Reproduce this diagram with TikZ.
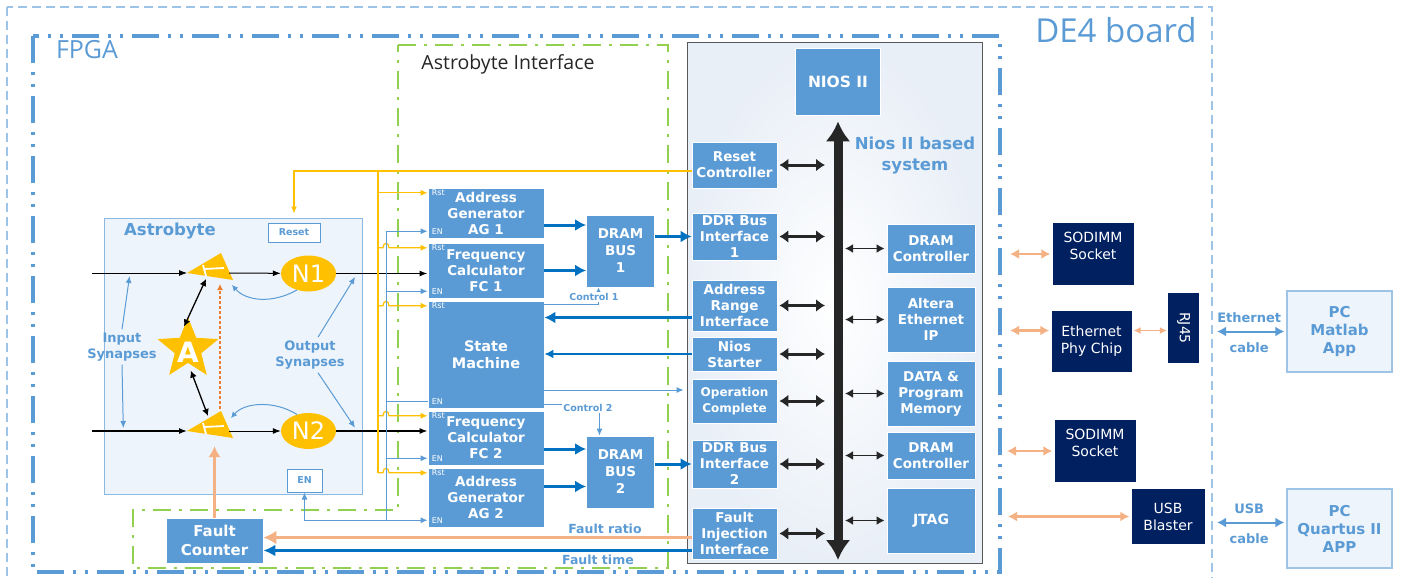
\documentclass[tikz,border=0pt]{standalone}
\usepackage{fontspec}
\setmainfont{DejaVu Sans}
\newfontfamily\segoe{Open Sans}
\usepackage{xcolor}
\definecolor{boxblue}{RGB}{91,155,213}
\definecolor{deepblue}{RGB}{0,112,192}
\definecolor{navy}{RGB}{0,32,96}
\definecolor{astroyellow}{RGB}{255,192,0}
\definecolor{peach}{RGB}{244,177,131}
\definecolor{dashorange}{RGB}{237,125,49}
\definecolor{limegreen}{RGB}{146,208,80}
\definecolor{paleblue}{RGB}{157,195,230}
\definecolor{niosbg}{RGB}{233,239,247}
\definecolor{astrobg}{RGB}{238,244,251}
\definecolor{framegray}{RGB}{89,89,89}
\usepackage{tikz}
\usetikzlibrary{arrows.meta, positioning, shapes.geometric, calc}

\newcommand{\boxfont}{\fontsize{13.5}{16}\selectfont\bfseries}

\tikzset{
  ibox/.style={fill=boxblue, draw=white, line width=0.8pt, text=white, align=center, font=\boxfont, inner sep=1pt},
  navybox/.style={fill=navy, text=white, align=center, font=\fontsize{14}{17}\selectfont, inner sep=1pt},
  pcbox/.style={draw=paleblue, line width=1.2pt, fill=astrobg, text=boxblue, align=center, font=\fontsize{15}{18}\selectfont\bfseries},
  tag/.style={text=white, font=\fontsize{8}{9}\selectfont, inner xsep=4pt, inner ysep=2pt},
  lbl/.style={text=boxblue, align=center, font=\fontsize{13}{16}\selectfont\bfseries},
  yel/.style={draw=astroyellow, line width=1.2pt},
  thinblue/.style={draw=boxblue, line width=1pt},
  tipS/.style={-{Latex[length=7pt,width=6pt]}},
  blk/.style={draw=black, line width=1pt, -{Latex[length=8pt,width=6pt]}},
  blkdbl/.style={draw=black, line width=1.3pt, {Latex[length=7pt,width=7pt]}-{Latex[length=7pt,width=7pt]}},
  fat/.style={draw=deepblue, line width=3pt, -{Latex[length=11pt,width=12pt]}},
  busdbl/.style={draw=black!85, line width=3pt, {Latex[length=9pt,width=13pt]}-{Latex[length=9pt,width=13pt]}},
  busdblthin/.style={draw=black!85, line width=1.6pt, {Latex[length=8pt,width=9pt]}-{Latex[length=8pt,width=9pt]}},
  peachdbl/.style={draw=peach, line width=2.5pt, {Latex[length=9pt,width=10pt]}-{Latex[length=9pt,width=10pt]}},
  cabledbl/.style={draw=boxblue, line width=2pt, {Latex[length=9pt,width=10pt]}-{Latex[length=9pt,width=10pt]}},
  hop/.style={insert path={-- ++(5,0) .. controls +(0,-6) and +(0,-6) .. ++(6,0)}},
}

% synapse: yellow wedge with a white T, plus named contact points
\newcommand{\synapse}[2]{%
  \begin{scope}[shift={#2}]
    \fill[astroyellow] (0,0) -- (34,-20) -- (46,7) -- cycle;
    \draw[white, line width=1.8pt] (16,-8) -- (19,3);
    \draw[white, line width=1.8pt] (17,-4) -- (37,-5);
    \coordinate (#1w) at (0,0);
    \coordinate (#1e) at (42,0);
    \coordinate (#1v) at (45,12);
    \coordinate (#1r) at (44,-13);
    \coordinate (#1t) at (33,-22);
    \coordinate (#1b) at (33,11);
    \coordinate (#1s) at (19,6);
    \coordinate (#1u) at (21,-15);
    \coordinate (#1d) at (28,15);
  \end{scope}}

\begin{document}
\begin{tikzpicture}[x=1pt, y=-1pt]
  \useasboundingbox (0,0) rectangle (1405,578);

  % --- Board and FPGA frames ---
  \draw[paleblue, line width=1.2pt, dash pattern=on 9pt off 5pt] (7,7) rectangle (1212,590);
  \node[font=\segoe\fontsize{33}{36}\selectfont, text=boxblue, inner sep=0pt] (de4) at (1116,30) {DE4 board};
  \draw[boxblue, line width=4pt, dash pattern=on 27pt off 9pt on 3pt off 9pt on 3pt off 9pt] (33,36) rectangle (1000,572);
  \node[font=\segoe\fontsize{25}{28}\selectfont, text=boxblue, inner sep=0pt] (fpga) at (87,50) {FPGA};
  \coordinate (fpgaE) at (1000,36);
  \coordinate (de4E) at (1212,7);

  % --- Astrobyte Interface frame ---
  \draw[limegreen, line width=2.5pt, dash pattern=on 18pt off 8pt on 3pt off 8pt]
    (398,45) -- (668,45) -- (668,568) -- (133,568) -- (133,510) -- (398,510) -- cycle;
  \node[font=\segoe\fontsize{19.5}{22}\selectfont, text=black!85, inner sep=0pt] (aititle) at (508,64) {Astrobyte Interface};

  % --- Nios II based system frame ---
  \draw[framegray, line width=1pt, inner color=white, outer color=niosbg] (687,43) rectangle (982,563);
  \node[lbl, font=\fontsize{16.5}{21}\selectfont\bfseries] (niostitle) at (915,156) {Nios II based\\system};

  % --- Astrobyte block ---
  \draw[boxblue!70, line width=1pt, fill=astrobg] (104,218) rectangle (362,494);
  \node[font=\fontsize{16.5}{18}\selectfont\bfseries, text=boxblue] (astro) at (170,231) {Astrobyte};
  \node[draw=boxblue, line width=1pt, fill=white, text=boxblue, font=\fontsize{9.5}{11}\selectfont\bfseries,
        minimum width=52pt, minimum height=19pt, inner sep=0pt] (rstbox) at (294,232.5) {Reset};
  \node[draw=boxblue, line width=1pt, fill=white, text=boxblue, font=\fontsize{9.5}{11}\selectfont\bfseries,
        minimum width=35pt, minimum height=23pt, inner sep=0pt] (enbox) at (304.5,480.5) {EN};
  \node[ellipse, fill=astroyellow, minimum width=55pt, minimum height=36pt, inner sep=0pt,
        text=white, font=\fontsize{24}{26}\selectfont] (n1) at (308.5,273.5) {N1};
  \node[ellipse, fill=astroyellow, minimum width=55pt, minimum height=36pt, inner sep=0pt,
        text=white, font=\fontsize{24}{26}\selectfont] (n2) at (308.5,431) {N2};
  \node[star, star points=5, star point ratio=2.3, minimum size=64pt, inner sep=0pt, fill=astroyellow] (star) at (188,349) {};
  \node[text=white, font=\fontsize{28}{30}\selectfont\bfseries] (startxt) at (188,352) {A};
  \synapse{syn1}{(187,273)}
  \synapse{syn2}{(187,431)}

  % inputs and outputs
  \coordinate (in1) at (92,273);
  \coordinate (in2) at (92,431);
  \draw[blk, line width=0.8pt] (in1) -- coordinate[pos=0.4] (insyn1) (syn1w);
  \draw[blk, line width=1.3pt] (in2) -- coordinate[pos=0.33] (insyn2) (syn2w);
  \draw[blk] (syn1e) -- (n1);
  \draw[blk] (syn2e) -- (n2);
  \draw[blkdbl] (star.100) -- (syn1s);
  \draw[blkdbl, shorten <=8pt] (star.south) -- (syn2u);
  \draw[dashorange, line width=1.2pt, dash pattern=on 3pt off 2pt, -{Latex[length=6pt,width=6pt]}] (syn2t) -- (syn1b);
  \draw[thinblue, -{Latex[length=6pt,width=6pt]}] (n1.235) .. controls +(-25,14) and +(14,16) .. (syn1v);
  \draw[thinblue, -{Latex[length=6pt,width=6pt]}] (n2.125) .. controls +(-22,-14) and +(14,-16) .. (syn2r);
  \node[lbl] (insyn) at (122,347) {Input\\Synapses};
  \draw[thinblue, tipS, shorten >=3pt] (insyn.north) -- (insyn1);
  \draw[thinblue, tipS, shorten >=3pt] (insyn.south) -- (insyn2);

  % --- Astrobyte Interface blocks ---
  \node[ibox, minimum width=116pt, minimum height=50pt] (ag1) at (486,213) {Address\\Generator\\AG 1};
  \node[ibox, minimum width=116pt, minimum height=55pt] (fc1) at (486,270.5) {Frequency\\Calculator\\FC 1};
  \node[ibox, minimum width=116pt, minimum height=107pt, font=\fontsize{14.5}{17}\selectfont\bfseries] (sm) at (486,354.5) {State\\Machine};
  \node[ibox, minimum width=116pt, minimum height=54pt] (fc2) at (486,438) {Frequency\\Calculator\\FC 2};
  \node[ibox, minimum width=116pt, minimum height=59pt] (ag2) at (486,497.5) {Address\\Generator\\AG 2};
  \node[tag, anchor=north west] (ag1-rst) at (ag1.north west) {Rst};
  \node[tag, anchor=south west] (ag1-en) at ([yshift=2pt]ag1.south west) {EN};
  \node[tag, anchor=north west] (fc1-rst) at (fc1.north west) {Rst};
  \node[tag, anchor=south west] (fc1-en) at ([yshift=2pt]fc1.south west) {EN};
  \node[tag, anchor=north west] (sm-rst) at (sm.north west) {Rst};
  \node[tag, anchor=south west] (sm-en) at ([yshift=2pt]sm.south west) {EN};
  \node[tag, anchor=north west] (fc2-rst) at (fc2.north west) {Rst};
  \node[tag, anchor=south west] (fc2-en) at ([yshift=2pt]fc2.south west) {EN};
  \node[tag, anchor=north west] (ag2-rst) at (ag2.north west) {Rst};
  \node[tag, anchor=south west] (ag2-en) at ([yshift=2pt]ag2.south west) {EN};
  \node[ibox, minimum width=68pt, minimum height=72pt, font=\fontsize{13.5}{17}\selectfont\bfseries] (dbus1) at (620.5,251) {DRAM\\BUS\\1};
  \node[ibox, minimum width=68pt, minimum height=72pt, font=\fontsize{13.5}{17}\selectfont\bfseries] (dbus2) at (620.5,472) {DRAM\\BUS\\2};

  % N outputs into the frequency calculators
  \draw[blk, line width=1.3pt] (n1.east) -- coordinate[pos=0.23] (outsyn1) (n1.east -| fc1.west);
  \draw[blk, line width=1.3pt] (n2.east) -- coordinate[pos=0.23] (outsyn2) (n2.east -| fc2.west);
  \node[lbl] (outsyn) at (310,355) {Output\\Synapses};
  \draw[thinblue, tipS, shorten >=4pt] ([xshift=8pt]outsyn.north) -- (outsyn1);
  \draw[thinblue, tipS, shorten >=4pt] ([xshift=8pt]outsyn.south) -- (outsyn2);

  % --- Nios II system blocks ---
  \node[ibox, minimum width=85pt, minimum height=67pt, font=\fontsize{15.5}{18}\selectfont\bfseries] (nios) at (838,81.5) {NIOS II};
  \node[ibox, minimum width=85pt, minimum height=46pt] (rstc) at (734.5,165) {Reset\\Controller};
  \node[ibox, minimum width=85pt, minimum height=47pt] (ddr1) at (734.5,236.5) {DDR Bus\\Interface\\1};
  \node[ibox, minimum width=85pt, minimum height=51pt] (arif) at (734.5,305.5) {Address\\Range\\Interface};
  \node[ibox, minimum width=85pt, minimum height=34pt] (nstr) at (734.5,354) {Nios\\Starter};
  \node[ibox, minimum width=85pt, minimum height=44pt, font=\fontsize{12}{16}\selectfont\bfseries] (opc) at (734.5,401) {Operation\\Complete};
  \node[ibox, minimum width=85pt, minimum height=48pt] (ddr2) at (734.5,464) {DDR Bus\\Interface\\2};
  \node[ibox, minimum width=85pt, minimum height=51pt] (fii) at (734.5,533.5) {Fault\\Injection\\Interface};
  \node[ibox, minimum width=88pt, minimum height=49pt] (dramc1) at (931,248.5) {DRAM\\Controller};
  \node[ibox, minimum width=88pt, minimum height=65pt] (eip) at (931,319.5) {Altera\\Ethernet\\IP};
  \node[ibox, minimum width=88pt, minimum height=65pt] (dpm) at (931,393.5) {DATA \&\\Program\\Memory};
  \node[ibox, minimum width=88pt, minimum height=47pt] (dramc2) at (931,455.5) {DRAM\\Controller};
  \node[ibox, minimum width=88pt, minimum height=65pt, font=\fontsize{14}{16}\selectfont\bfseries] (jtag) at (931,520.5) {JTAG};

  % system bus
  \coordinate (bustop) at ([yshift=-6pt]nios.south);
  \coordinate (busbot) at (838,560);
  \draw[black!85, line width=9pt, {Latex[length=20pt,width=25pt]}-{Latex[length=20pt,width=25pt]}] (bustop) -- (busbot);
  \draw[busdbl, shorten <=2pt, shorten >=13pt] (rstc.east) -- (rstc.east -| bustop);
  \draw[busdbl, shorten <=2pt, shorten >=13pt] (ddr1.east) -- (ddr1.east -| bustop);
  \draw[busdbl, shorten <=2pt, shorten >=13pt] (arif.east) -- (arif.east -| bustop);
  \draw[busdbl, shorten <=2pt, shorten >=13pt] (nstr.east) -- (nstr.east -| bustop);
  \draw[busdbl, shorten <=2pt, shorten >=13pt] (opc.east) -- (opc.east -| bustop);
  \draw[busdbl, shorten <=2pt, shorten >=13pt] (ddr2.east) -- (ddr2.east -| bustop);
  \draw[busdbl, shorten <=2pt, shorten >=13pt] (fii.east) -- (fii.east -| bustop);
  \draw[busdblthin, shorten <=7pt, shorten >=2pt] (dramc1.west -| bustop) -- (dramc1.west);
  \draw[busdblthin, shorten <=7pt, shorten >=2pt] (eip.west -| bustop) -- (eip.west);
  \draw[busdblthin, shorten <=7pt, shorten >=2pt] (dpm.west -| bustop) -- (dpm.west);
  \draw[busdblthin, shorten <=7pt, shorten >=2pt] (dramc2.west -| bustop) -- (dramc2.west);
  \draw[busdblthin, shorten <=7pt, shorten >=2pt] (jtag.west -| bustop) -- (jtag.west);

  % --- Reset net (yellow) ---
  \coordinate (rbus) at (378,171);
  \draw[yel, tipS, shorten >=9pt] ([yshift=-6pt]rstc.west) -| (rstbox.north);
  \draw[yel] (rbus) -- (rbus |- ag2-rst.west);
  \draw[yel, tipS] (rbus |- ag1-rst.west) -- (ag1-rst.west);
  \draw[yel, tipS] (rbus |- fc1-rst.west) [hop] -- (fc1-rst.west);
  \draw[yel, tipS] (rbus |- sm-rst.west) [hop] -- (sm-rst.west);
  \draw[yel, tipS] (rbus |- fc2-rst.west) [hop] -- (fc2-rst.west);
  \draw[yel, tipS] (rbus |- ag2-rst.west) [hop] -- (ag2-rst.west);

  % --- Enable net (blue) ---
  \coordinate (enbus) at (386,232);
  \draw[thinblue] (enbus |- ag1-en.west) -- (enbus |- ag2-en.west);
  \draw[thinblue, tipS] (enbus |- ag1-en.west) -- (ag1-en.west);
  \draw[thinblue, tipS] (enbus |- fc1-en.west) -- (fc1-en.west);
  \draw[thinblue] (enbus |- sm-en.west) -- (sm-en.west);
  \draw[thinblue, tipS] (enbus |- fc2-en.west) -- (fc2-en.west);
  \draw[thinblue, tipS] (enbus |- ag2-en.west) -- (ag2-en.west);
  \draw[thinblue, tipS] (enbus |- ag2-en.west) -- (enbox.south |- ag2-en.west) -- (enbox.south);

  % --- Data paths ---
  \coordinate (ag1out) at ([yshift=-12pt]ag1.east);
  \coordinate (fc2out) at ([yshift=-11pt]fc2.east);
  \coordinate (ag2out) at ([yshift=11pt]ag2.east);
  \draw[fat] (ag1out) -- (ag1out -| dbus1.west);
  \draw[fat] (fc1.east) -- (fc1.east -| dbus1.west);
  \draw[fat] (dbus1.east |- ddr1.west) -- (ddr1.west);
  \draw[fat] (fc2out) -- (fc2out -| dbus2.west);
  \draw[fat] (ag2out) -- (ag2out -| dbus2.west);
  \draw[fat] (dbus2.east |- ddr2.west) -- (ddr2.west);

  % control lines of the state machine
  \draw[thinblue, -{Latex[length=5pt,width=5pt]}] ([yshift=-4pt]sm.north east) -| ([xshift=-22pt]dbus1.south);
  \node[font=\fontsize{9.5}{11}\selectfont\bfseries, text=boxblue, fill=white, inner sep=1pt] (ctl1) at (594,297) {Control 1};
  \draw[thinblue, tipS] ([yshift=4pt]sm.south east) -| ([xshift=-21pt]dbus2.north);
  \node[font=\fontsize{9.5}{11}\selectfont\bfseries, text=boxblue, fill=white, inner sep=1pt] (ctl2) at (588,408) {Control 2};
  \coordinate (arout) at ([yshift=-12pt]arif.west);
  \coordinate (opin) at ([yshift=11pt]opc.west);
  \draw[fat] (arout) -- (arout -| sm.east);
  \draw[deepblue, line width=2pt, -{Latex[length=9pt,width=9pt]}] (nstr.west) -- (nstr.west -| sm.east);
  \draw[thinblue, tipS, shorten >=8pt] (opin -| sm.east) -- (opin);

  % --- Fault counter ---
  \node[ibox, minimum width=97pt, minimum height=45pt, font=\fontsize{15}{19}\selectfont\bfseries] (fcnt) at (214.5,540.5) {Fault\\Counter};
  \coordinate (fratio) at ([yshift=-4pt]fii.west);
  \coordinate (ftime) at ([yshift=-17pt]fii.west);
  \draw[peach, line width=3pt, -{Latex[length=13pt,width=14pt]}] (fratio) -- (fratio -| fcnt.east);
  \draw[deepblue, line width=2.5pt, -{Latex[length=12pt,width=12pt]}] (ftime) -- (ftime -| fcnt.east);
  \node[lbl, font=\fontsize{12.5}{14}\selectfont\bfseries] (frlbl) at (605,529) {Fault ratio};
  \node[lbl, font=\fontsize{12.5}{14}\selectfont\bfseries] (ftlbl) at (598,560) {Fault time};
  \draw[peach, line width=3pt, -{Latex[length=11pt,width=12pt]}] (fcnt.north) -- (fcnt.north |- syn2d);

  % --- Board peripherals ---
  \node[navybox, minimum width=81pt, minimum height=62pt] (sod1) at (1093,254) {SODIMM\\Socket\\\mbox{}};
  \node[navybox, minimum width=80pt, minimum height=61pt] (ephy) at (1091.5,341.5) {Ethernet\\Phy Chip};
  \node[navybox, rotate=-90, minimum width=70pt, minimum height=31pt] (rj45) at (1183.5,328) {RJ45};
  \node[navybox, minimum width=81pt, minimum height=62pt] (sod2) at (1095,451) {SODIMM\\Socket\\\mbox{}};
  \node[navybox, minimum width=73pt, minimum height=55pt] (usb) at (1168,516.5) {USB\\Blaster};
  \coordinate (ephyL) at ([yshift=11pt]ephy.west);
  \coordinate (ephyR) at ([yshift=11pt]ephy.east);
  \draw[peachdbl, shorten <=2pt, shorten >=10pt] (sod1.west) -- (sod1.west -| fpgaE);
  \draw[peachdbl, shorten <=2pt, shorten >=10pt] (ephyL) -- (ephyL -| fpgaE);
  \draw[peachdbl, shorten <=2pt, shorten >=7pt] (sod2.west) -- (sod2.west -| fpgaE);
  \draw[peachdbl, shorten <=2pt, shorten >=8pt] (usb.west) -- (usb.west -| fpgaE);
  \draw[draw=peach, line width=1.2pt, {Latex[length=7pt,width=7pt]}-{Latex[length=7pt,width=7pt]}, shorten <=2pt, shorten >=1pt]
    (ephyR) -- (ephyR -| rj45.south);

  % --- Host PCs ---
  \node[pcbox, minimum width=105pt, minimum height=81pt] (pc1) at (1339.5,331.5) {PC\\Matlab\\App};
  \node[pcbox, minimum width=105pt, minimum height=79pt] (pc2) at (1339.5,528.5) {PC\\Quartus II\\APP};
  \coordinate (usbin) at ([yshift=6pt]pc2.west);
  \draw[cabledbl, shorten <=5pt, shorten >=2pt] (pc1.west -| de4E) --
    node[lbl, above=4pt] (ethtop) {Ethernet} node[lbl, below=7pt] (ethbot) {cable} (pc1.west);
  \draw[cabledbl, shorten <=5pt, shorten >=2pt] (usbin -| de4E) --
    node[lbl, above=4pt] (usbtop) {USB} node[lbl, below=7pt] (usbbot) {cable} (usbin);
\end{tikzpicture}
\end{document}
